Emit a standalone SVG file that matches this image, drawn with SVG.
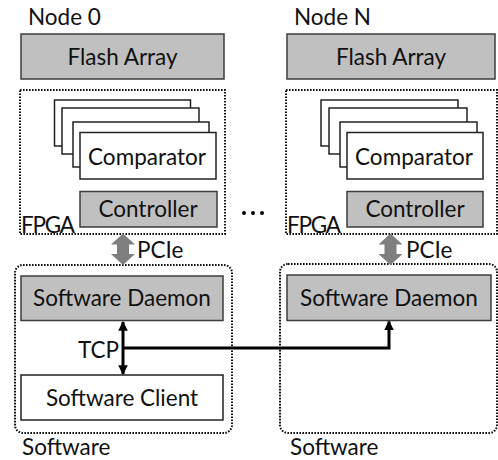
<svg xmlns="http://www.w3.org/2000/svg" width="498" height="460" viewBox="0 0 498 460">
  <style>
    text { font-family: Lato, "Open Sans", sans-serif; fill: #111; }
    .lbl { font-size: 22.5px; }
    .mid { text-anchor: middle; }
    .gray { fill: #c0c0c0; stroke: #3c3c3c; stroke-width: 1.5; }
    .card { fill: #ffffff; stroke: #222; stroke-width: 1.5; }
    .dotted { fill: none; stroke: #111; stroke-width: 2; stroke-dasharray: 1.6 1.4; }
    .pcie { fill: #7f7f7f; }
    .wire { fill: none; stroke: #000; stroke-width: 3; }
  </style>
  <defs>
    <marker id="head" viewBox="0 0 10 10" refX="9" refY="5" markerWidth="3.2" markerHeight="3.4" orient="auto-start-reverse" markerUnits="strokeWidth">
      <path d="M0,0 L10,5 L0,10 Z" fill="#000"/>
    </marker>
  </defs>

  <!-- Node 0 -->
  <g id="node0">
    <text class="lbl" x="28" y="25">Node 0</text>
    <g id="flash0">
      <rect class="gray" x="21" y="34" width="203" height="45"/>
      <text class="lbl mid" x="122.5" y="65">Flash Array</text>
    </g>
    <g id="fpga0">
      <rect class="dotted" x="20" y="90" width="205" height="144"/>
      <text class="lbl" x="21" y="233" textLength="54">FPGA</text>
    </g>
    <g id="comparator0">
      <rect class="card" x="54.5" y="100" width="136" height="46"/>
      <rect class="card" x="62" y="108" width="137" height="46"/>
      <rect class="card" x="73" y="122" width="136" height="45"/>
      <rect class="card" x="80" y="132.5" width="136" height="46.5"/>
      <text class="lbl mid" x="147" y="165">Comparator</text>
    </g>
    <g id="controller0">
      <rect class="gray" x="80" y="191.5" width="137" height="35.5"/>
      <text class="lbl mid" x="148" y="216.5">Controller</text>
    </g>
  </g>

  <!-- Node N -->
  <g id="nodeN">
    <text class="lbl" x="294" y="25">Node N</text>
    <g id="flashN">
      <rect class="gray" x="287" y="34" width="208" height="45"/>
      <text class="lbl mid" x="391" y="65">Flash Array</text>
    </g>
    <g id="fpgaN">
      <rect class="dotted" x="286" y="90" width="211" height="144"/>
      <text class="lbl" x="287" y="233" textLength="54">FPGA</text>
    </g>
    <g id="comparatorN">
      <rect class="card" x="321" y="100" width="137" height="46"/>
      <rect class="card" x="329" y="108" width="138" height="46"/>
      <rect class="card" x="340" y="122" width="137" height="45"/>
      <rect class="card" x="347" y="132.5" width="136" height="46.5"/>
      <text class="lbl mid" x="414" y="165">Comparator</text>
    </g>
    <g id="controllerN">
      <rect class="gray" x="347" y="191.5" width="136" height="35.5"/>
      <text class="lbl mid" x="415" y="216.5">Controller</text>
    </g>
  </g>

  <!-- ellipsis between the nodes -->
  <g id="ellipsis">
    <circle cx="244" cy="213" r="2"/>
    <circle cx="253" cy="213" r="2"/>
    <circle cx="262" cy="213" r="2"/>
  </g>

  <!-- Software, node 0 -->
  <g id="software0">
    <rect class="dotted" x="15" y="265" width="217" height="168" rx="8"/>
    <text class="lbl" x="22" y="455">Software</text>
  </g>
  <g id="daemon0">
    <rect class="gray" x="21" y="276" width="202" height="44.5"/>
    <text class="lbl mid" x="122" y="306">Software Daemon</text>
  </g>
  <g id="client0">
    <rect class="card" x="21" y="375" width="202" height="45"/>
    <text class="lbl mid" x="122" y="406">Software Client</text>
  </g>

  <!-- Software, node N -->
  <g id="softwareN">
    <rect class="dotted" x="280" y="264" width="217" height="169" rx="8"/>
    <text class="lbl" x="290" y="455">Software</text>
  </g>
  <g id="daemonN">
    <rect class="gray" x="287" y="275" width="204" height="45.5"/>
    <text class="lbl mid" x="389" y="306">Software Daemon</text>
  </g>

  <!-- Connectors -->
  <g id="connectors">
    <polygon class="pcie" points="123,233.5 135,244.5 129,244.5 129,254 135,254 123,265 111,254 117,254 117,244.5 111,244.5"/>
    <text class="lbl" x="137" y="258">PCIe</text>
    <polygon class="pcie" points="390.5,233.5 402.5,244.5 396.5,244.5 396.5,254 402.5,254 390.5,265 378.5,254 384.5,254 384.5,244.5 378.5,244.5"/>
    <text class="lbl" x="406" y="258">PCIe</text>

    <line class="wire" x1="123" y1="322" x2="123" y2="374" marker-start="url(#head)" marker-end="url(#head)"/>
    <polyline class="wire" points="123,348 389,348 389,321.5" marker-end="url(#head)"/>
    <text class="lbl" x="119" y="358" text-anchor="end">TCP</text>
  </g>
</svg>
